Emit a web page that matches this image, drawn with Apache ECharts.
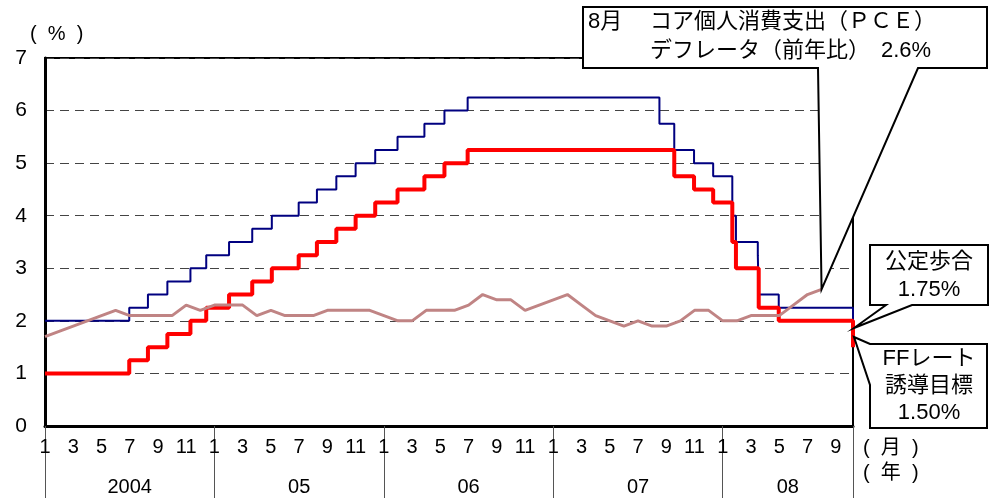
<!DOCTYPE html>
<html>
<head>
<meta charset="utf-8">
<script src="https://cdn.jsdelivr.net/npm/echarts@6/dist/echarts.min.js"></script>
<style>
  html, body { margin: 0; padding: 0; background: #fff; }
  #chart { width: 999px; height: 498px; }
</style>
</head>
<body>
<div id="chart"></div>
<script>
// core PCE deflator, y/y %, monthly from 2004-01 to 2008-08
const pceValues = [
  1.7, 1.8, 1.9, 2.0, 2.1, 2.2, 2.1, 2.1, 2.1, 2.1, 2.3, 2.2, // 2004
  2.3, 2.3, 2.3, 2.1, 2.2, 2.1, 2.1, 2.1, 2.2, 2.2, 2.2, 2.2, // 2005
  2.1, 2.0, 2.0, 2.2, 2.2, 2.2, 2.3, 2.5, 2.4, 2.4, 2.2, 2.3, // 2006
  2.4, 2.5, 2.3, 2.1, 2.0, 1.9, 2.0, 1.9, 1.9, 2.0, 2.2, 2.2, // 2007
  2.0, 2.0, 2.1, 2.1, 2.1, 2.3, 2.5, 2.6                      // 2008
];

// FF rate target: change dates and new levels
const ffDates = ['2004-01-01', '2004-06-30', '2004-08-10', '2004-09-21', '2004-11-10', '2004-12-14',
  '2005-02-02', '2005-03-22', '2005-05-03', '2005-06-30', '2005-08-09', '2005-09-20', '2005-11-01', '2005-12-13',
  '2006-01-31', '2006-03-28', '2006-05-10', '2006-06-29',
  '2007-09-18', '2007-10-31', '2007-12-11',
  '2008-01-22', '2008-01-30', '2008-03-18', '2008-04-30', '2008-10-08'];
const ffRates = [1.00, 1.25, 1.50, 1.75, 2.00, 2.25,
  2.50, 2.75, 3.00, 3.25, 3.50, 3.75, 4.00, 4.25,
  4.50, 4.75, 5.00, 5.25,
  4.75, 4.50, 4.25,
  3.50, 3.00, 2.25, 2.00, 1.50];

// discount rate (公定歩合)
const discDates = ['2004-01-01', '2004-06-30', '2004-08-10', '2004-09-21', '2004-11-10', '2004-12-14',
  '2005-02-02', '2005-03-22', '2005-05-03', '2005-06-30', '2005-08-09', '2005-09-20', '2005-11-01', '2005-12-13',
  '2006-01-31', '2006-03-28', '2006-05-10', '2006-06-29',
  '2007-08-17', '2007-09-18', '2007-10-31', '2007-12-11',
  '2008-01-22', '2008-01-30', '2008-03-16', '2008-03-18', '2008-04-30', '2008-10-08'];
const discRates = [2.00, 2.25, 2.50, 2.75, 3.00, 3.25,
  3.50, 3.75, 4.00, 4.25, 4.50, 4.75, 5.00, 5.25,
  5.50, 5.75, 6.00, 6.25,
  5.75, 5.25, 5.00, 4.75,
  4.00, 3.50, 3.25, 2.50, 2.25, 1.75];

const yearLabels = ['2004', '05', '06', '07', '08'];
const startYear = 2004;
const endDate = '2008-10-08';

const FONT = "'Liberation Sans', 'Noto Sans CJK JP', sans-serif";

// months elapsed since Jan 2004 (fractional)
function monthIndex(s) {
  const [y, m, d] = s.split('-').map(Number);
  const days = new Date(y, m, 0).getDate();
  return (y - startYear) * 12 + (m - 1) + (d - 1) / days;
}

const xMax = monthIndex(endDate);
const yearTicks = yearLabels.map((_, i) => i * 12).concat([xMax]);
const yearCenters = yearLabels.map((_, i) => i < yearLabels.length - 1 ? i * 12 + 6 : (i * 12 + xMax) / 2);

const chart = echarts.init(document.getElementById('chart'));

const option = {
  animation: false,
  grid: {
    left: 45, right: 146, top: 58, bottom: 72,
    show: true, borderColor: '#000', borderWidth: 2, backgroundColor: 'transparent'
  },
  xAxis: [
    {
      type: 'value', min: 0, max: xMax, interval: 2,
      axisLine: { show: true, lineStyle: { color: '#000', width: 3 } },
      axisTick: { show: false },
      splitLine: { show: false },
      axisLabel: {
        color: '#000', fontSize: 20, fontFamily: FONT, margin: 11,
        showMaxLabel: false,
        formatter: v => Number.isInteger(v) ? String(v % 12 + 1) : ''
      }
    },
    {
      type: 'value', min: 0, max: xMax, position: 'bottom',
      axisLine: { show: false },
      splitLine: { show: false },
      axisTick: {
        show: true, customValues: yearTicks, length: 72,
        lineStyle: { color: '#555', width: 1 }
      },
      axisLabel: {
        customValues: yearCenters,
        color: '#000', fontSize: 20, fontFamily: FONT, margin: 51,
        formatter: v => {
          const i = yearCenters.findIndex(c => Math.abs(c - v) < 0.01);
          return i >= 0 ? yearLabels[i] : '';
        }
      }
    }
  ],
  yAxis: {
    type: 'value', min: 0, max: 7, interval: 1,
    axisLine: { show: true, lineStyle: { color: '#000', width: 3 } },
    axisTick: { show: false },
    axisLabel: { color: '#000', fontSize: 21, fontFamily: FONT, margin: 18 },
    splitLine: { show: true, lineStyle: { color: '#444', width: 1, type: [9, 6] } }
  },
  series: [
    {
      name: '公定歩合', type: 'line', step: 'end', symbol: 'none',
      data: discDates.map((d, i) => [monthIndex(d), discRates[i]]),
      lineStyle: { color: '#000080', width: 2 }
    },
    {
      name: 'FFレート誘導目標', type: 'line', step: 'end', symbol: 'none',
      data: ffDates.map((d, i) => [monthIndex(d), ffRates[i]]),
      lineStyle: { color: '#ff0000', width: 4 }
    },
    {
      name: 'コアPCEデフレータ', type: 'line', symbol: 'none',
      data: pceValues.map((v, i) => [i, v]),
      lineStyle: { color: '#c08484', width: 3 }
    }
  ]
};

chart.setOption(option);

// callouts, pointed at the data
const apex = chart.convertToPixel({ gridIndex: 0 }, [pceValues.length - 1, pceValues[pceValues.length - 1]]);
const rightX = chart.convertToPixel({ gridIndex: 0 }, [xMax, 0])[0];

const txt = (x, y, s, align, size) => ({
  type: 'text', x: x, y: y, z: 101,
  style: { text: s, fill: '#000', font: (size || 22) + 'px ' + FONT, align: align || 'left', verticalAlign: 'middle' }
});

chart.setOption({
  graphic: [
    txt(30, 34, '(  %  )', 'left', 20),
    {
      type: 'polygon', z: 100,
      shape: { points: [[583, 7], [987, 7], [987, 68], [918, 68], apex, [818, 68], [583, 68]] },
      style: { fill: '#fff', stroke: '#000', lineWidth: 2 }
    },
    txt(588, 22, '8月'),
    txt(650, 22, 'コア個人消費支出（ＰＣＥ）'),
    txt(650, 51, 'デフレータ（前年比）　2.6%'),
    {
      type: 'polygon', z: 100,
      shape: { points: [[870, 245], [988, 245], [988, 305], [912, 305], [rightX + 1, 328], [886, 305], [870, 305]] },
      style: { fill: '#fff', stroke: '#000', lineWidth: 2 }
    },
    txt(929, 262, '公定歩合', 'center'),
    txt(929, 290, '1.75%', 'center'),
    {
      type: 'polygon', z: 100,
      shape: { points: [[rightX + 1, 337], [870, 344], [987, 344], [987, 428], [870, 428], [870, 385]] },
      style: { fill: '#fff', stroke: '#000', lineWidth: 2 }
    },
    txt(929, 359, 'FFレート', 'center'),
    txt(929, 386, '誘導目標', 'center'),
    txt(929, 413, '1.50%', 'center'),
    txt(863, 448, '(  月  )', 'left', 20),
    txt(863, 473, '(  年  )', 'left', 20)
  ]
});
</script>
</body>
</html>
